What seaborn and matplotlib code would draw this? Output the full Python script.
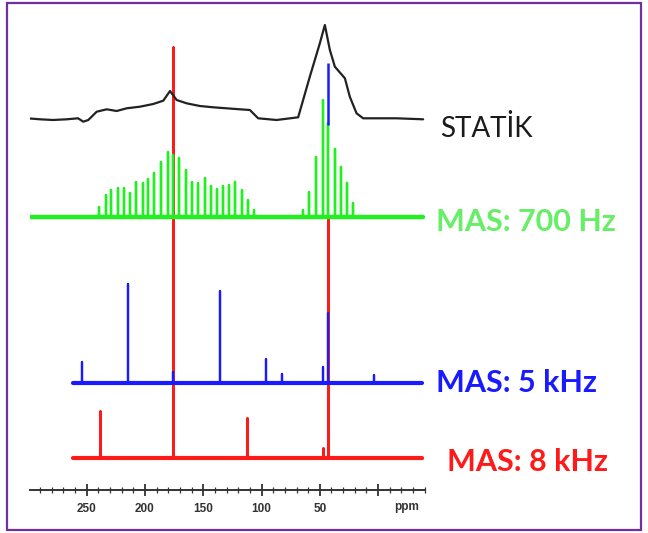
import numpy as np
import matplotlib
matplotlib.use("Agg")
import matplotlib.pyplot as plt
from matplotlib.patches import Rectangle
from matplotlib.ticker import MultipleLocator, FixedLocator
import seaborn as sns

# --- data (ppm positions, intensities in px above each baseline) ---
# static spectrum, continuous trace
static_ppm = [300.9, 290, 278.9, 267.1, 257.4, 252.9, 248.6, 241.4, 232.8, 224.3, 215.7,
              204.3, 192.9, 184.3, 178.5, 172.8, 164.3, 152.9, 141.5, 130, 118.6, 110,
              102.9, 87.1, 68.6, 58.6, 50, 45.7, 41.4, 37.1, 28.5, 24.3, 18.5, 12.9,
              -15.8, -38.6]
static_int = [-0.3, -1.3, -2, -1.3, -0.3, -3.7, -2, 6.3, 8.7, 7, 9.7,
              11.3, 14, 17.3, 27, 18, 14.7, 12, 10.7, 9.7, 8.7, 8,
              -0.3, -2, 0.7, 41.3, 74.7, 93, 68, 51.3, 39.7, 21.3, 4.7, -0.3,
              -0.3, -1.3]

# MAS 700 Hz spinning sidebands
mas700_ppm = [239.4, 233.4, 229.1, 223.4, 217.7, 212.9, 207.7, 202, 197.2, 192, 186.3,
              180.5, 175.7, 170.6, 164.9, 159.5, 154.3, 148.6, 143.4, 138.3, 133.1, 128,
              122.4, 117.1, 111.7, 106.6,
              64.6, 59.2, 53.4, 47.7, 43.4, 36.9, 32, 27.1, 21.4]
mas700_int = [10, 22, 27, 29, 29, 24, 35, 34, 38, 44, 55,
              65, 62, 59, 47, 35, 34, 39, 31, 28, 31, 32,
              35, 27, 17, 7,
              7, 25, 60, 117, 94, 68, 50, 34, 14]

# MAS 5 kHz
mas5_ppm = [254, 214.8, 175.7, 135.7, 96.3, 82.8, 47.5, 42.9, 3.4]
mas5_int = [21, 99, 11, 92, 24, 9, 16, 70, 8]

# MAS 8 kHz
mas8_ppm = [238.5, 175.7, 112.8, 47.2, 42.9]
mas8_int = [47, 411, 40, 10, 241]

# blue marker on the 43 ppm line (bottom, top in px above the axis)
marker_ppm = 42.9
marker_span = [365, 427]

major_ticks = [250, 200, 150, 100, 50, 0]
tick_labels = ["250", "200", "150", "100", "50", ""]

labels = ["STATİK", "MAS: 700 Hz", "MAS: 5 kHz", "MAS: 8 kHz"]


def stick_trace(start, end, ppm, heights):
    xs, ys = [start], [0]
    for p, h in sorted(zip(ppm, heights), reverse=True):
        xs += [p, p, p]
        ys += [0, h, 0]
    xs.append(end)
    ys.append(0)
    return np.array(xs), np.array(ys, dtype=float)


sns.set_style("white")
plt.rcParams['font.family'] = ['Lato', 'DejaVu Sans']

fig = plt.figure(figsize=(6.48, 5.33), dpi=100)
ax = fig.add_axes([30 / 648, 43 / 533, 395 / 648, 480 / 533])

# baselines (px above the axis line)
base_black, base_green, base_blue, base_red = 372, 273, 107, 32

red = "#ff1a1a"
green = "#22ee22"
blue = "#1a1aff"
black = "#222222"

# 8 kHz (drawn first, its tall lines run under the others)
x, y = stick_trace(261.5, -37.2, mas8_ppm, mas8_int)
sns.lineplot(x=x, y=y + base_red, sort=False, estimator=None, color=red, lw=1.8, ax=ax, zorder=1)
sns.lineplot(x=[261.5, -37.2], y=[base_red, base_red], color=red, lw=3, ax=ax, zorder=1)

# static
sns.lineplot(x=np.array(static_ppm), y=np.array(static_int) + base_black, sort=False,
             estimator=None, color=black, lw=1.6, ax=ax, zorder=2)

# 700 Hz
x, y = stick_trace(298.0, -38.6, mas700_ppm, mas700_int)
sns.lineplot(x=x, y=y + base_green, sort=False, estimator=None, color=green, lw=1.7, ax=ax, zorder=3)
sns.lineplot(x=[298.0, -38.6], y=[base_green, base_green], color=green, lw=3.2, ax=ax, zorder=3)

# 5 kHz
x, y = stick_trace(261.7, -37.2, mas5_ppm, mas5_int)
sns.lineplot(x=x, y=y + base_blue, sort=False, estimator=None, color=blue, lw=1.6, ax=ax, zorder=4)
sns.lineplot(x=[261.7, -37.2], y=[base_blue, base_blue], color=blue, lw=3, ax=ax, zorder=4)

ax.vlines(marker_ppm, marker_span[0], marker_span[1], color=blue, lw=1.8, zorder=4)

ax.set_xlim(298.6, -40.2)
ax.set_ylim(0, 480)
for s in ["left", "right", "top"]:
    ax.spines[s].set_visible(False)
ax.spines["bottom"].set_color("#333333")
ax.spines["bottom"].set_linewidth(1.4)
ax.set_yticks([])
ax.xaxis.set_major_locator(FixedLocator(major_ticks))
ax.set_xticklabels(tick_labels)
ax.xaxis.set_minor_locator(MultipleLocator(10))
ax.tick_params(axis="x", which="both", bottom=True)
ax.tick_params(axis="x", which="major", direction="inout", length=9, width=1.3,
               color="#333333", pad=5, labelsize=8.5, labelcolor="#333333")
ax.tick_params(axis="x", which="minor", direction="inout", length=4, width=0.9, color="#333333")
for t in ax.get_xticklabels():
    t.set_fontweight("bold")
    t.set_family(["Liberation Sans", "DejaVu Sans"])
ax.text(-24.5, -17 / 480, "ppm", transform=ax.get_xaxis_transform(), ha="center", va="center",
        fontsize=8.5, fontweight="bold", color="#333333", family=["Liberation Sans", "DejaVu Sans"])

# right-hand labels
fig.text(440 / 648, 1 - 129 / 533, labels[0], color="#1a1a1a", fontsize=20, va="center")
fig.text(436 / 648, 1 - 222 / 533, labels[1], color="#66ee66", fontsize=22, fontweight="bold", va="center")
fig.text(436 / 648, 1 - 383 / 533, labels[2], color=blue, fontsize=22, fontweight="bold", va="center")
fig.text(447 / 648, 1 - 462 / 533, labels[3], color=red, fontsize=22, fontweight="bold", va="center")

# purple frame
fig.patches.append(Rectangle((7 / 648, 3 / 533), 634 / 648, 527 / 533, transform=fig.transFigure,
                             fill=False, edgecolor="#7030a0", lw=1.6))

fig.savefig("out.png", dpi=100)
